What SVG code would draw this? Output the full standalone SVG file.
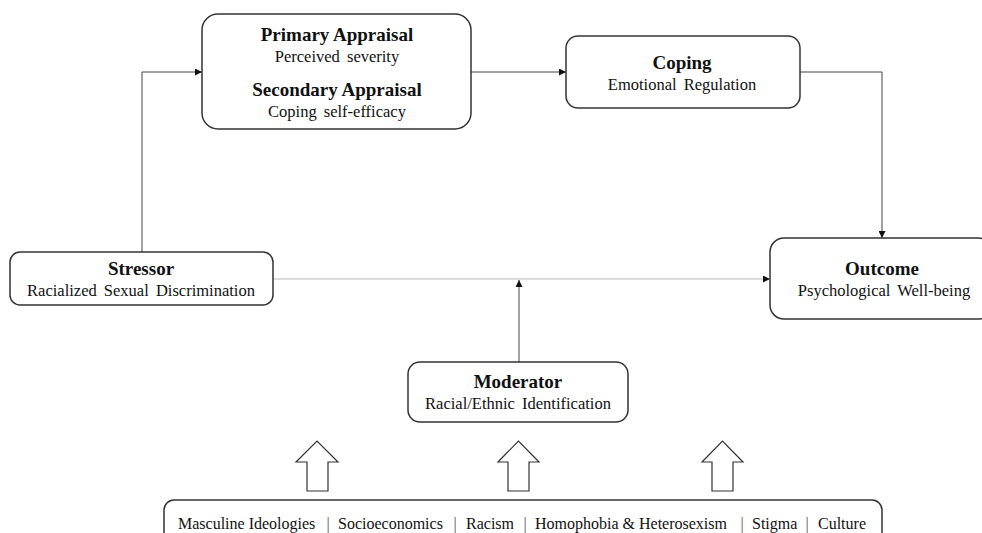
<svg xmlns="http://www.w3.org/2000/svg" width="982" height="533" viewBox="0 0 982 533">
<style>
.box{fill:#fff;stroke:#333;stroke-width:1.5}
.t{fill:#111;text-anchor:middle}
.b{font-weight:bold;font-size:19px}
.r{font-size:16.5px;word-spacing:3px}
.f{fill:#111;font-size:16px}
.bar{fill:#555;font-size:16px;text-anchor:middle}
.ln{fill:none;stroke:#444;stroke-width:1}
.lt{fill:none;stroke:#bbb;stroke-width:1.2}
.blk{fill:#fff;stroke:#333;stroke-width:1.2}
</style>
<defs>
<marker id="ah" viewBox="0 0 10 10" refX="10" refY="5" markerWidth="7" markerHeight="7" markerUnits="userSpaceOnUse" orient="auto">
<path d="M0,0 L10,5 L0,10 z" fill="#111"/>
</marker>
</defs>
<rect width="982" height="533" fill="#fff"/>
<g id="connectors">
<polyline class="ln" points="142,252 142,72 202,72" marker-end="url(#ah)"/>
<line class="ln" x1="471" y1="72" x2="566" y2="72" marker-end="url(#ah)"/>
<polyline class="ln" points="800,72 882,72 882,238" marker-end="url(#ah)"/>
<line class="lt" x1="273" y1="279" x2="770" y2="279" marker-end="url(#ah)"/>
<line class="ln" x1="519" y1="362" x2="519" y2="280" marker-end="url(#ah)"/>
<path class="blk" d="M307,491 V462 H296 L317,441 L338,462 H328 V491 Z"/>
<path class="blk" d="M508,491 V462 H498 L518.5,441 L539,462 H529 V491 Z"/>
<path class="blk" d="M712,491 V462 H702 L722.5,441 L743,462 H733 V491 Z"/>
</g>
<g font-family="Liberation Serif, Times New Roman, DejaVu Serif, serif">
<g id="appraisal">
<rect class="box" x="202" y="14" width="269" height="115" rx="16"/>
<text class="t b" x="337" y="41">Primary Appraisal</text>
<text class="t r" x="337" y="62">Perceived severity</text>
<text class="t b" x="337" y="96">Secondary Appraisal</text>
<text class="t r" x="337" y="117">Coping self-efficacy</text>
</g>
<g id="coping">
<rect class="box" x="566" y="36" width="234" height="72" rx="12"/>
<text class="t b" x="682" y="69">Coping</text>
<text class="t r" x="682" y="90">Emotional Regulation</text>
</g>
<g id="stressor">
<rect class="box" x="10" y="252" width="263" height="53" rx="10"/>
<text class="t b" x="141" y="275">Stressor</text>
<text class="t r" x="141" y="296">Racialized Sexual Discrimination</text>
</g>
<g id="outcome">
<rect class="box" x="770" y="238" width="222" height="81" rx="14"/>
<text class="t b" x="882" y="275">Outcome</text>
<text class="t r" x="884" y="296">Psychological Well-being</text>
</g>
<g id="moderator">
<rect class="box" x="408" y="362" width="220" height="60" rx="12"/>
<text class="t b" x="518" y="388">Moderator</text>
<text class="t r" x="518" y="409">Racial/Ethnic Identification</text>
</g>
<g id="factors">
<rect class="box" x="164" y="500" width="718" height="60" rx="10"/>
<text class="f" x="178" y="529">Masculine Ideologies</text>
<text class="bar" x="328" y="529">|</text>
<text class="f" x="338" y="529">Socioeconomics</text>
<text class="bar" x="455" y="529">|</text>
<text class="f" x="466" y="529">Racism</text>
<text class="bar" x="525" y="529">|</text>
<text class="f" x="535" y="529">Homophobia &amp; Heterosexism</text>
<text class="bar" x="742" y="529">|</text>
<text class="f" x="752" y="529">Stigma</text>
<text class="bar" x="807" y="529">|</text>
<text class="f" x="818" y="529">Culture</text>
</g>
</g>
</svg>
